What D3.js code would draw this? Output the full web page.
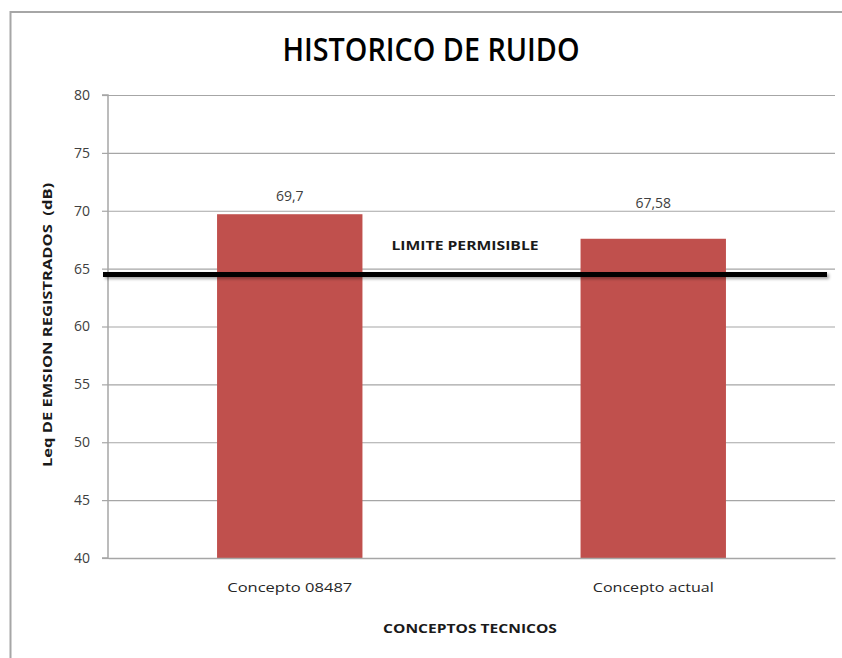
<!DOCTYPE html>
<html lang="es">
<head>
<meta charset="UTF-8">
<title>Historico de ruido</title>
<script src="https://cdn.jsdelivr.net/npm/d3@7"></script>
<style>
  body { margin: 0; background: #fff; }
  text { font-family: "Open Sans", "Noto Sans", sans-serif; }
</style>
</head>
<body>
<svg width="842" height="658" id="mainsvg"></svg>
<script>
// datos del grafico
const categories = ['Concepto 08487', 'Concepto actual'];
const values = [69.7, 67.58];
const valueLabels = ['69,7', '67,58'];
const yTicks = [40, 45, 50, 55, 60, 65, 70, 75, 80];
const limitValue = 64.5;
const limitLabel = 'LIMITE PERMISIBLE';

const svg = d3.select('#mainsvg');
const margin = {top: 95, right: 7, bottom: 100, left: 108};
const width = +svg.attr('width');
const height = +svg.attr('height');
const innerWidth = width - margin.left - margin.right;
const innerHeight = height - margin.top - margin.bottom;

// ajusta el ancho de un texto (anclado en el centro), como la Calibri estrecha del original
const fitList = [];
const squeeze = (node, target, pre = '') => fitList.push({node, target, pre});
const applyFit = () => fitList.forEach(({node, target, pre}) => {
  const w = node.getBBox().width;
  d3.select(node).attr('transform', `${pre} scale(${target / w},1)`);
});

// marco exterior
svg.append('rect').attr('x', 10.5).attr('y', 12).attr('width', 850).attr('height', 700)
  .attr('fill', 'none').attr('stroke', '#a6a6a6').attr('stroke-width', 2);

// sombra de la linea limite
const defs = svg.append('defs');
const f = defs.append('filter').attr('id', 'shadow').attr('filterUnits', 'userSpaceOnUse')
  .attr('x', -200).attr('y', -200).attr('width', 1200).attr('height', 1000);
f.append('feDropShadow').attr('dx', 2).attr('dy', 2).attr('stdDeviation', 1.5)
  .attr('flood-color', '#000').attr('flood-opacity', 0.35);

const g = svg.append('g').attr('transform', `translate(${margin.left},${margin.top})`);

const x = d3.scaleBand().domain(categories).range([0, innerWidth]).paddingInner(0.6).paddingOuter(0.3);
const y = d3.scaleLinear().domain([40, 80]).range([innerHeight, 0]);

// rejilla
g.append('g')
  .call(d3.axisLeft(y).tickValues(yTicks).tickSize(-innerWidth).tickFormat(''))
  .call(s => s.select('.domain').remove())
  .call(s => s.selectAll('line').attr('stroke', '#a6a6a6').attr('stroke-width', 1.2));

// eje y
g.append('g')
  .call(d3.axisLeft(y).tickValues(yTicks).tickSize(6).tickPadding(12))
  .call(s => s.select('.domain').attr('stroke', '#a6a6a6').attr('stroke-width', 1.5)
    .attr('d', `M-6,${innerHeight}H0V0H-6`))
  .call(s => s.selectAll('line').attr('stroke', '#a6a6a6').attr('stroke-width', 1.2))
  .call(s => s.selectAll('text').attr('font-size', 14).attr('fill', '#404040')
    .style('font-family', '"Open Sans", sans-serif'));

// barras
g.selectAll('.bar').data(values).join('rect')
  .attr('class', 'bar')
  .attr('x', (d, i) => x(categories[i]))
  .attr('width', x.bandwidth())
  .attr('y', d => y(d))
  .attr('height', d => innerHeight - y(d))
  .attr('fill', '#c0504d');

// eje x
const catWidths = [125, 121];
g.append('g').attr('transform', `translate(0,${innerHeight})`)
  .call(d3.axisBottom(x).tickSize(0).tickPadding(25))
  .call(s => s.select('.domain').attr('stroke', '#a6a6a6').attr('stroke-width', 1.5))
  .call(s => s.selectAll('text').attr('font-size', 13).attr('fill', '#262626')
    .style('font-family', '"Open Sans", sans-serif')
    .each(function(d, i) { squeeze(this, catWidths[i]); }));

// etiquetas de valor (desplazadas a mano como en el original)
const labelDy = [13, 31];
g.selectAll('.vlabel').data(values).join('text')
  .attr('class', 'vlabel')
  .attr('x', (d, i) => x(categories[i]) + x.bandwidth() / 2)
  .attr('y', (d, i) => y(d) - labelDy[i])
  .attr('text-anchor', 'middle')
  .attr('font-size', 14).attr('fill', '#404040')
  .text((d, i) => valueLabels[i]);

// linea limite
g.append('path')
  .attr('d', `M-5,${y(limitValue)}H${innerWidth - 8}`)
  .attr('stroke', '#000').attr('stroke-width', 5)
  .attr('filter', 'url(#shadow)');

g.append('text')
  .attr('text-anchor', 'middle').attr('font-size', 13).attr('font-weight', 'bold')
  .attr('fill', '#1a1a1a')
  .text(limitLabel)
  .each(function() { squeeze(this, 147, `translate(357,${y(limitValue) - 24})`); });

// titulos
svg.append('text')
  .attr('text-anchor', 'middle').attr('font-size', 33).attr('font-weight', 600)
  .attr('fill', '#000')
  .text('HISTORICO DE RUIDO')
  .each(function() { squeeze(this, 297, 'translate(431,61)'); });

svg.append('text')
  .attr('text-anchor', 'middle').attr('font-size', 13).attr('font-weight', 'bold')
  .attr('fill', '#1a1a1a').style('white-space', 'pre')
  .text('Leq DE EMSION REGISTRADOS  (dB)')
  .each(function() { squeeze(this, 284, 'translate(52,325) rotate(-90)'); });

svg.append('text')
  .attr('text-anchor', 'middle').attr('font-size', 13).attr('font-weight', 'bold')
  .attr('fill', '#1a1a1a')
  .text('CONCEPTOS TECNICOS')
  .each(function() { squeeze(this, 174, 'translate(470,633)'); });

applyFit();
if (document.fonts) document.fonts.ready.then(applyFit);
</script>
</body>
</html>
